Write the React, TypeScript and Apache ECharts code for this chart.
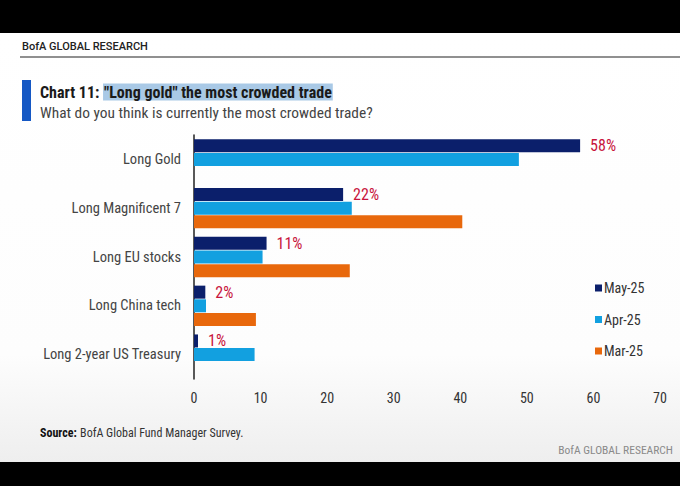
import { useEffect, useRef } from 'react';
import * as echarts from 'echarts';

const categories = [
  'Long Gold',
  'Long Magnificent 7',
  'Long EU stocks',
  'Long China tech',
  'Long 2-year US Treasury',
];
const may25 = [58, 22.4, 10.9, 1.7, 0.6];
const apr25 = [48.8, 23.7, 10.3, 1.8, 9.1];
const mar25 = [null, 40.3, 23.4, 9.3, null];
const mayLabels = ['58%', '22%', '11%', '2%', '1%'];
const xTicks = { min: 0, max: 70, interval: 10 };

const FONT = '"Liberation Sans Narrow", "Roboto Condensed", Roboto, sans-serif';

export default function App() {
  const chartRef = useRef<HTMLDivElement>(null);

  useEffect(() => {
    if (!chartRef.current) return;
    document.body.style.margin = '0';
    const chart = echarts.init(chartRef.current, null, { renderer: 'svg' });

    const option: echarts.EChartsOption = {
      animation: false,
      backgroundColor: '#000',
      textStyle: { fontFamily: FONT },
      graphic: [
        {
          type: 'rect',
          shape: { x: 0, y: 33, width: 680, height: 429 },
          style: {
            fill: new echarts.graphic.LinearGradient(0, 0, 0, 1, [
              { offset: 0, color: '#ffffff' },
              { offset: 0.75, color: '#fdfdfd' },
              { offset: 1, color: '#eeeeee' },
            ]),
          },
          z: -10,
        },
        {
          type: 'text',
          x: 22,
          y: 46,
          style: {
            text: 'BofA GLOBAL RESEARCH',
            font: '500 11px Roboto, sans-serif',
            fill: '#222',
            verticalAlign: 'middle',
          },
        },
        {
          type: 'line',
          shape: { x1: 20, y1: 57, x2: 680, y2: 57 },
          style: { stroke: '#222', lineWidth: 1.2 },
        },
        {
          type: 'rect',
          shape: { x: 22, y: 80, width: 9, height: 41 },
          style: { fill: '#1558c4' },
        },
        {
          type: 'text',
          x: 40,
          y: 92,
          style: {
            text: '{a|Chart 11: }{b|"Long gold" the most crowded trade}',
            verticalAlign: 'middle',
            rich: {
              a: { font: `bold 16px ${FONT}`, fill: '#1a1a1a' },
              b: {
                font: `bold 16px ${FONT}`,
                fill: '#1a1a1a',
                backgroundColor: '#a9c9e6',
                padding: [1, 1, 0, 1],
              },
            },
          },
        },
        {
          type: 'text',
          x: 40,
          y: 113,
          style: {
            text: 'What do you think is currently the most crowded trade?',
            font: `15.4px ${FONT}`,
            fill: '#444',
            verticalAlign: 'middle',
          },
        },
        {
          type: 'text',
          x: 40,
          y: 433,
          style: {
            text: '{s|Source:} {t|BofA Global Fund Manager Survey.}',
            verticalAlign: 'middle',
            rich: {
              s: { font: `bold 12px ${FONT}`, fill: '#111' },
              t: { font: `12px ${FONT}`, fill: '#333' },
            },
          },
        },
        {
          type: 'text',
          x: 673,
          y: 450,
          style: {
            text: 'BofA GLOBAL RESEARCH',
            font: `11.5px ${FONT}`,
            fill: '#8a8a8a',
            align: 'right',
            verticalAlign: 'middle',
          },
        },
      ],
      legend: {
        orient: 'vertical',
        left: 590,
        top: 276,
        itemWidth: 7,
        itemHeight: 7,
        itemGap: 17.5,
        icon: 'rect',
        textStyle: { fontSize: 14, color: '#333', fontFamily: FONT, padding: [0, 0, 0, -3] },
        data: ['May-25', 'Apr-25', 'Mar-25'],
      },
      grid: { left: 194, right: 20, top: 135, bottom: 107, containLabel: false },
      xAxis: {
        type: 'value',
        min: xTicks.min,
        max: xTicks.max,
        interval: xTicks.interval,
        splitLine: { show: false },
        axisLine: { show: false },
        axisTick: { show: false },
        axisLabel: { color: '#333', fontSize: 14, margin: 12, fontFamily: FONT },
      },
      yAxis: {
        type: 'category',
        inverse: true,
        data: categories,
        axisLine: { show: true, lineStyle: { color: '#222', width: 1.5 } },
        axisTick: { show: false },
        axisLabel: { color: '#444', fontSize: 14.5, margin: 13, fontFamily: FONT },
      },
      series: [
        {
          name: 'May-25',
          type: 'bar',
          data: may25,
          barWidth: 13,
          barGap: '5%',
          itemStyle: { color: '#0b1f6b' },
          label: {
            show: true,
            position: 'right',
            distance: 10,
            formatter: (p: any) => mayLabels[p.dataIndex],
            color: '#c8143c',
            fontSize: 16,
            fontFamily: FONT,
          },
        },
        {
          name: 'Apr-25',
          type: 'bar',
          data: apr25,
          barWidth: 13,
          barGap: '5%',
          itemStyle: { color: '#12a0e0' },
        },
        {
          name: 'Mar-25',
          type: 'bar',
          data: mar25,
          barWidth: 13,
          barGap: '5%',
          itemStyle: { color: '#e8680c' },
        },
      ],
    };

    chart.setOption(option);
    return () => chart.dispose();
  }, []);

  return <div ref={chartRef} style={{ width: 680, height: 486 }} />;
}
